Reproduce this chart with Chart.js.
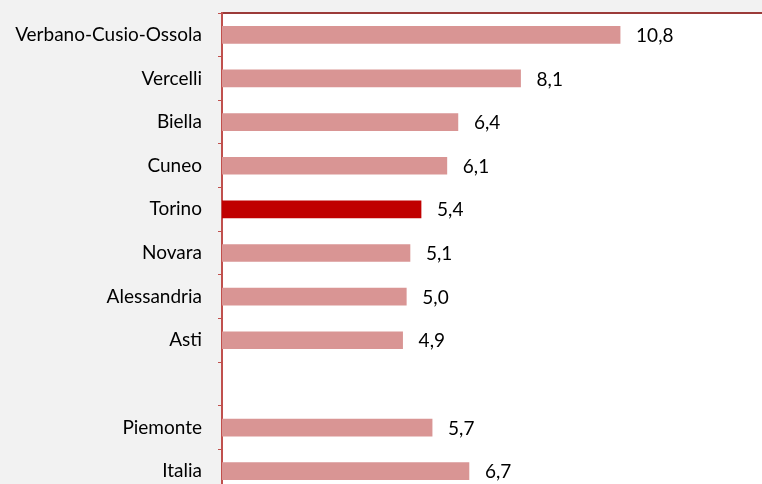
<!DOCTYPE html>
<html>
<head>
<meta charset="utf-8">
<script src="https://cdn.jsdelivr.net/npm/chart.js@4"></script>
<style>
  html, body { margin:0; padding:0; background:#f2f2f2; overflow:hidden; }
  #wrap { position:relative; width:762px; height:493px; }
</style>
</head>
<body>
<div id="wrap"><canvas id="chart"></canvas></div>
<script>
// ================= DATI =================
const province = ["Verbano-Cusio-Ossola","Vercelli","Biella","Cuneo","Torino","Novara","Alessandria","Asti","","Piemonte","Italia"];
const valori = [10.8, 8.1, 6.4, 6.1, 5.4, 5.1, 5.0, 4.9, null, 5.7, 6.7];
const evidenziata = "Torino";

const colori = province.map(p => p === evidenziata ? "#c00000" : "#d99594");
const FONT = "Lato, sans-serif";
const FONT_SIZE = 19;

// sfondo bianco per l'area del grafico
const sfondoArea = {
  id:"sfondoArea",
  beforeDraw(chart){
    const {ctx, chartArea:a} = chart;
    ctx.save();
    ctx.fillStyle = "#ffffff";
    ctx.fillRect(a.left, a.top, a.right - a.left, a.bottom - a.top);
    ctx.strokeStyle = "#9b3b39";
    ctx.lineWidth = 2;
    ctx.beginPath();
    ctx.moveTo(a.left, a.top);
    ctx.lineTo(a.right, a.top);
    ctx.stroke();
    ctx.restore();
  }
};

// etichette valori
const etichette = {
  id:"etichette",
  afterDatasetsDraw(chart){
    const {ctx} = chart;
    const meta = chart.getDatasetMeta(0);
    ctx.save();
    ctx.font = FONT_SIZE + "px " + FONT;
    ctx.fillStyle = "#000";
    ctx.textBaseline = "middle";
    meta.data.forEach((bar, i) => {
      const v = valori[i];
      if(v === null) return;
      ctx.fillText(v.toFixed(1).replace(".", ","), bar.x + 16, bar.y + 1);
    });
    ctx.restore();
  }
};

new Chart(document.getElementById("chart"), {
  type:"bar",
  data:{
    labels:province,
    datasets:[{
      data:valori,
      backgroundColor:colori,
      barThickness:17
    }]
  },
  options:{
    indexAxis:"y",
    responsive:true,
    maintainAspectRatio:false,
    animation:false,
    layout:{padding:{top:13, right:0, bottom:0, left:0}},
    plugins:{legend:{display:false}, tooltip:{enabled:false}},
    scales:{
      x:{
        display:false,
        min:0,
        max:14.65
      },
      y:{
        afterFit(scale){
          scale.width = 222;
          scale.paddingTop = 0;
          scale.paddingBottom = 0;
        },
        grid:{
          drawOnChartArea:false,
          color:"#c0504d",
          tickLength:4,
          offset:true
        },
        border:{color:"#c0504d", width:2},
        ticks:{
          color:"#000",
          padding:16,
          font:{family:FONT, size:FONT_SIZE}
        }
      }
    }
  },
  plugins:[sfondoArea, etichette]
});
</script>
</body>
</html>
